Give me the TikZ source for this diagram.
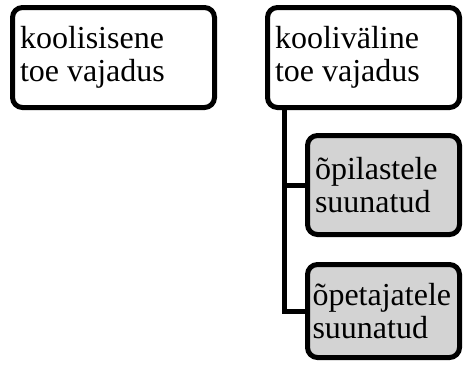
\documentclass[tikz,border=0pt]{standalone}
\usepackage{fontspec}
\setmainfont{Liberation Serif}
\definecolor{boxgray}{RGB}{211,211,211}
\begin{document}
\begin{tikzpicture}[x=1pt,y=-1pt,
  box/.style={draw=black, line width=5pt, rounded corners=10pt, fill=white,
    inner xsep=7.5pt, inner ysep=0pt, align=flush left,
    font=\fontsize{32}{32.5}\selectfont},
  subbox/.style={box, fill=boxgray},
  link/.style={draw=black, line width=5pt}]
\useasboundingbox (0,0) rectangle (463,365);
\node[box, minimum width=202pt, minimum height=100pt, text width=187pt] (b1) at (113.5,57.5) {koolisisene\\toe vajadus};
\node[box, minimum width=192pt, minimum height=100pt, text width=177pt] (b2) at (363.5,57.5) {kooliväline\\toe vajadus};
\node[subbox, minimum width=152pt, minimum height=99pt, text width=137pt] (b3) at (383.5,185) {õpilastele\\suunatud};
\node[subbox, minimum width=152pt, minimum height=93pt, text width=142pt, inner xsep=5pt] (b4) at (383.5,311) {õpetajatele\\suunatud};
\coordinate (trunk) at ([xshift=19.5pt]b2.south west);
\draw[link] (trunk) |- (b3.west);
\draw[link] (trunk) |- (b4.west);
\end{tikzpicture}
\end{document}
